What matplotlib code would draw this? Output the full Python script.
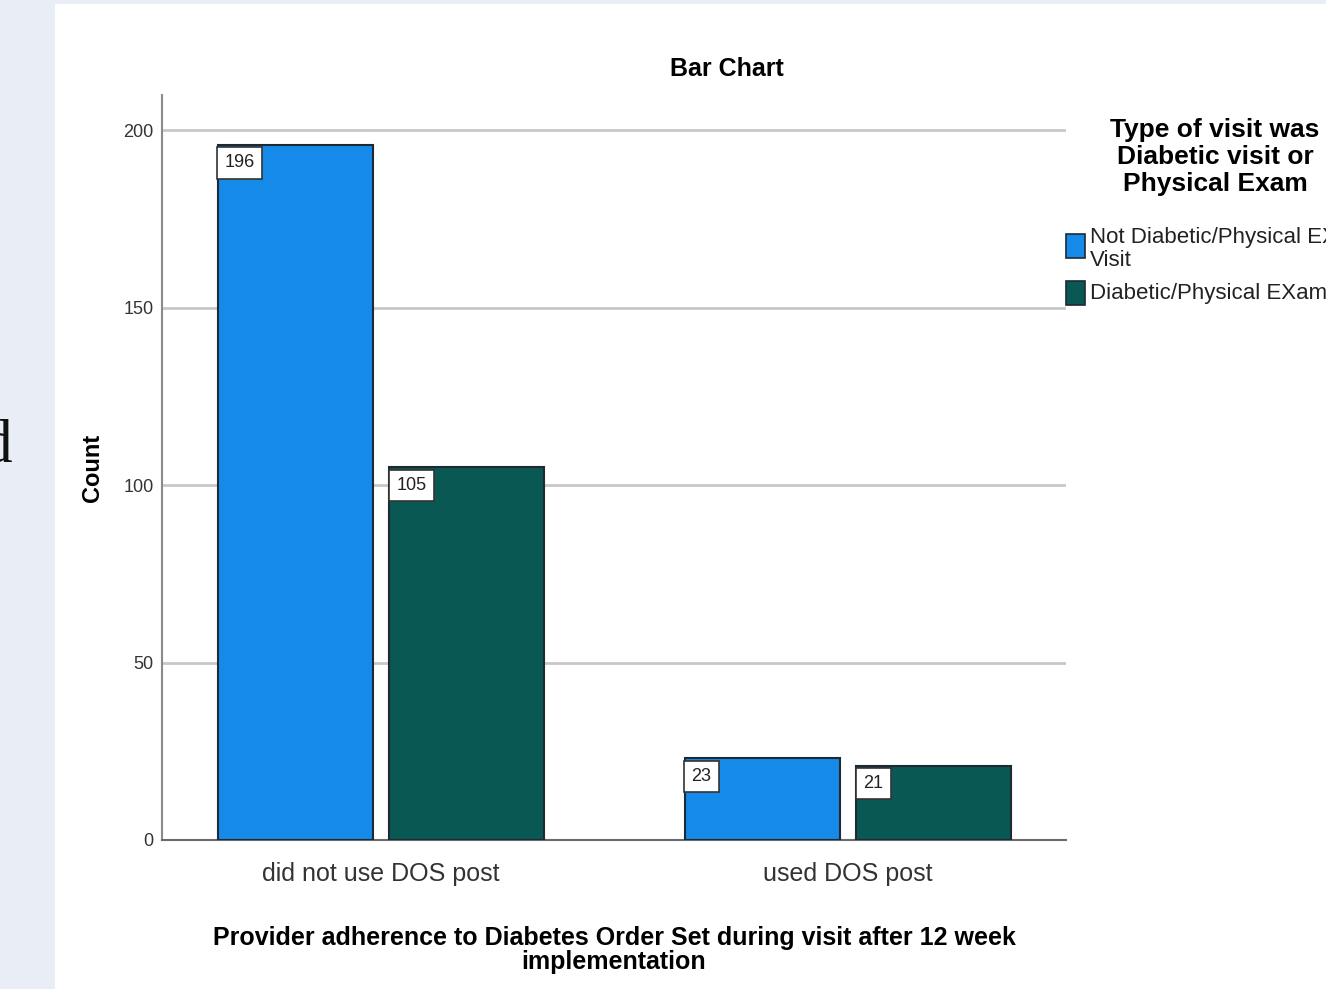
import matplotlib
matplotlib.use("Agg")
import matplotlib.pyplot as plt
from matplotlib.patches import Rectangle
import numpy as np

categories = ["did not use DOS post", "used DOS post"]
series_names = ["Not Diabetic/Physical EXam\nVisit", "Diabetic/Physical EXam Visit"]
not_diabetic = [196, 23]
diabetic = [105, 21]
yticks = [0, 50, 100, 150, 200]

colors = ["#168AE8", "#0A5853"]
narrow = ["Liberation Sans Narrow", "Liberation Sans", "DejaVu Sans"]

fig = plt.figure(figsize=(13.26, 9.89), dpi=100)
fig.patch.set_facecolor("#E8EDF6")
fig.patches.append(Rectangle((55 / 1326, 0), 1 - 55 / 1326, 1 - 4 / 989,
                             transform=fig.transFigure, facecolor="white",
                             edgecolor="none", zorder=-5))

ax = fig.add_axes([162 / 1326, 1 - 840 / 989, (1066 - 162) / 1326, (840 - 95) / 989])
ax.set_facecolor("none")
ax.set_zorder(2)

x = np.arange(len(categories))
w = 0.332
off = 0.184
for vals, dx, c in [(not_diabetic, -off, colors[0]), (diabetic, off, colors[1])]:
    bars = ax.bar(x + dx, vals, width=w, color=c, edgecolor="#1e2a33", linewidth=1.5, zorder=3)
    for b, v in zip(bars, vals):
        ax.annotate(str(v), (b.get_x(), v), xytext=(5, -7), textcoords="offset points",
                    ha="left", va="top", fontsize=13, family=narrow, color="#222",
                    bbox=dict(boxstyle="square,pad=0.4", fc="white", ec="#333", lw=1.2),
                    zorder=5)

ax.set_xlim(-0.469, 1.467)
ax.set_ylim(0, 210)
ax.set_yticks(yticks)
ax.set_yticklabels([str(t) for t in yticks], fontsize=13, family=narrow, color="#333")
ax.set_xticks(x)
ax.set_xticklabels(categories, fontsize=18, family=narrow, color="#333")
ax.tick_params(axis="both", length=0)
ax.tick_params(axis="y", pad=6)
ax.tick_params(axis="x", pad=16)
ax.yaxis.grid(True, color="#c8c8c8", linewidth=2, zorder=0)
ax.set_axisbelow(True)
for s in ["top", "right"]:
    ax.spines[s].set_visible(False)
ax.spines["left"].set_color("#8a8a8a")
ax.spines["left"].set_linewidth(1.5)
ax.spines["bottom"].set_color("#6a6a6a")
ax.spines["bottom"].set_linewidth(1.5)

ax.set_ylabel("Count", fontsize=17, fontweight="bold", family=narrow, labelpad=14)
fig.text(614 / 1326, 1 - 950 / 989,
         "Provider adherence to Diabetes Order Set during visit after 12 week\nimplementation",
         ha="center", va="center", fontsize=18, fontweight="bold", family=narrow,
         linespacing=1.05)
fig.text(727 / 1326, 1 - 69 / 989, "Bar Chart", ha="center", va="center",
         fontsize=18, fontweight="bold", family=narrow)

# legend
fig.text(1215 / 1326, 1 - 157 / 989, "Type of visit was\nDiabetic visit or\nPhysical Exam",
         ha="center", va="center", fontsize=19, fontweight="bold", family=narrow,
         linespacing=1.15)
fig.patches.append(Rectangle((1066 / 1326, 1 - 258 / 989), 19 / 1326, 24 / 989,
                             transform=fig.transFigure, facecolor=colors[0],
                             edgecolor="#1e2a33", lw=1.2, zorder=3))
fig.patches.append(Rectangle((1066 / 1326, 1 - 305 / 989), 19 / 1326, 24 / 989,
                             transform=fig.transFigure, facecolor=colors[1],
                             edgecolor="#1e2a33", lw=1.2, zorder=3))
fig.text(1090 / 1326, 1 - 249 / 989, series_names[0], ha="left", va="center",
         fontsize=16, family=narrow, color="#222", linespacing=1.1)
fig.text(1090 / 1326, 1 - 294 / 989, series_names[1], ha="left", va="center",
         fontsize=16, family=narrow, color="#222")

# partial glyph at far left
fig.text(-18 / 1326, 1 - 447 / 989, "d", ha="left", va="center", fontsize=44,
         family=["Liberation Serif", "DejaVu Serif"], color="#111")

fig.savefig("out.png", dpi=100, facecolor=fig.get_facecolor())
